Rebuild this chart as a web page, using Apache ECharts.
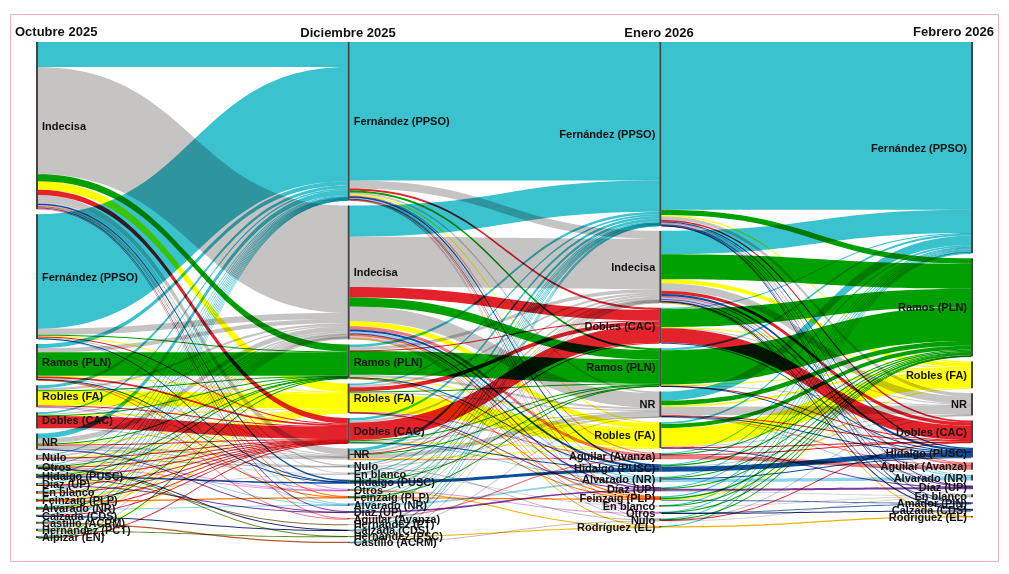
<!DOCTYPE html>
<html><head><meta charset="utf-8">
<script src="https://cdn.jsdelivr.net/npm/echarts@6/dist/echarts.min.js"></script>
<style>
html,body{margin:0;padding:0;background:#fff;}
#chart{width:1009px;height:574px;}
#chart svg path{mix-blend-mode:multiply;}
</style></head><body><div id="chart"></div>
<script>
const columns = ['Octubre 2025','Diciembre 2025','Enero 2026','Febrero 2026'];
const F='Fernández (PPSO)', I='Indecisa', R='Ramos (PLN)', RB='Robles (FA)', D='Dobles (CAC)', N='NR',
  NU='Nulo', OT='Otros', H='Hidalgo (PUSC)', DZ='Díaz (UP)', EB='En blanco', FZ='Feinzaig (PLP)',
  AL='Alvarado (NR)', CZ='Calzada (CDS)', CS='Castillo (ACRM)', HPCT='Hernández (PCT)', AP='Alpízar (EN)',
  AG='Aguilar (Avanza)', HPT='Hernández (PT)', HPSC='Hernández (PSC)', RD='Rodríguez (EL)', AM='Amador (PIN)';

const nodesOct = [I,F,R,RB,D,N,NU,OT,H,DZ,EB,FZ,AL,CZ,CS,HPCT,AP];
const nodesDic = [F,I,R,RB,D,N,NU,EB,H,OT,FZ,AL,DZ,AG,HPT,CZ,HPSC,CS];
const nodesEne = [F,I,D,R,N,RB,AG,H,AL,DZ,FZ,EB,OT,NU,RD];
const nodesFeb = [F,R,RB,N,D,H,AG,AL,DZ,EB,AM,CZ,RD];

// [origen, destino, porcentaje]
const flowsOctDic = [
  [I,F,6.0],[I,I,25.8],[I,R,1.7],[I,RB,2.0],[I,D,1.3],[I,N,1.5],[I,NU,0.3],[I,EB,0.2],[I,H,0.4],[I,OT,0.2],[I,FZ,0.2],[I,AL,0.2],[I,DZ,0.2],[I,AG,0.2],
  [F,F,27.5],[F,I,1.5],[F,R,0.2],[F,RB,0.2],[F,D,0.2],[F,N,0.2],[F,H,0.1],[F,AL,0.1],
  [R,F,1.0],[R,I,1.0],[R,R,5.6],[R,RB,0.2],[R,D,0.4],[R,N,0.2],[R,H,0.1],[R,FZ,0.1],[R,AG,0.1],
  [RB,F,0.7],[RB,I,0.5],[RB,R,0.1],[RB,RB,3.6],[RB,D,0.2],[RB,N,0.1],[RB,OT,0.1],
  [D,F,0.4],[D,I,0.3],[D,R,0.1],[D,RB,0.1],[D,D,2.9],[D,N,0.1],
  [N,F,1.2],[N,I,1.2],[N,R,0.1],[N,RB,0.2],[N,D,0.2],[N,N,0.6],[N,NU,0.1],[N,EB,0.1],[N,AL,0.1],[N,DZ,0.1],
  [NU,F,0.2],[NU,I,0.4],[NU,RB,0.1],[NU,D,0.1],[NU,NU,0.3],[NU,OT,0.1],
  [OT,F,0.2],[OT,I,0.2],[OT,R,0.1],[OT,RB,0.1],[OT,D,0.1],[OT,OT,0.1],[OT,CZ,0.1],[OT,HPSC,0.1],
  [H,F,0.1],[H,I,0.1],[H,R,0.1],[H,RB,0.1],[H,D,0.1],[H,H,0.4],[H,HPT,0.1],
  [DZ,F,0.1],[DZ,I,0.2],[DZ,RB,0.1],[DZ,D,0.1],[DZ,DZ,0.2],
  [EB,F,0.1],[EB,I,0.2],[EB,RB,0.1],[EB,D,0.1],[EB,EB,0.2],
  [FZ,F,0.1],[FZ,I,0.1],[FZ,RB,0.1],[FZ,D,0.1],[FZ,FZ,0.3],
  [AL,F,0.1],[AL,I,0.1],[AL,R,0.1],[AL,RB,0.1],[AL,D,0.1],[AL,AL,0.2],
  [CZ,F,0.1],[CZ,I,0.1],[CZ,D,0.1],[CZ,CZ,0.2],
  [CS,F,0.1],[CS,I,0.1],[CS,CS,0.3],
  [HPCT,F,0.1],[HPCT,I,0.2],[HPCT,RB,0.1],[HPCT,HPSC,0.1],
  [AP,F,0.1],[AP,I,0.2],[AP,R,0.1],[AP,D,0.1]
];
const flowsDicEne = [
  [F,F,33.3],[F,I,1.9],[F,D,0.5],[F,R,0.5],[F,N,0.4],[F,RB,0.3],[F,AG,0.2],[F,H,0.4],[F,AL,0.2],[F,DZ,0.1],[F,FZ,0.1],[F,OT,0.1],[F,NU,0.1],
  [I,F,7.5],[I,I,12.1],[I,D,2.5],[I,R,2.2],[I,N,3.5],[I,RB,1.2],[I,AG,0.8],[I,H,0.5],[I,AL,0.4],[I,DZ,0.4],[I,FZ,0.3],[I,EB,0.2],[I,OT,0.2],[I,NU,0.2],[I,RD,0.2],
  [R,F,0.6],[R,I,0.8],[R,D,0.2],[R,R,5.7],[R,N,0.5],[R,RB,0.1],[R,H,0.1],[R,FZ,0.1],[R,AL,0.1],
  [RB,F,0.4],[RB,I,0.5],[RB,D,1.0],[RB,R,0.2],[RB,N,0.3],[RB,RB,4.4],[RB,AG,0.1],[RB,DZ,0.1],[RB,FZ,0.1],
  [D,F,0.6],[D,I,0.5],[D,D,4.2],[D,R,0.2],[D,N,0.2],[D,RB,0.1],[D,H,0.1],[D,AL,0.2],
  [N,F,0.7],[N,I,0.5],[N,D,0.1],[N,R,0.2],[N,N,1.0],[N,RB,0.1],[N,AG,0.1],
  [NU,F,0.2],[NU,I,0.2],[NU,N,0.1],[NU,NU,0.2],
  [EB,F,0.1],[EB,I,0.1],[EB,N,0.1],[EB,EB,0.2],
  [H,F,0.1],[H,I,0.1],[H,R,0.1],[H,H,0.7],
  [OT,F,0.1],[OT,I,0.1],[OT,OT,0.1],[OT,RD,0.1],
  [FZ,F,0.1],[FZ,I,0.1],[FZ,R,0.1],[FZ,FZ,0.3],
  [AL,F,0.1],[AL,I,0.1],[AL,AL,0.4],
  [DZ,F,0.1],[DZ,DZ,0.4],
  [AG,AG,0.3],
  [HPT,I,0.1],
  [CZ,F,0.1],[CZ,I,0.1],[CZ,N,0.1],
  [HPSC,F,0.1],[HPSC,RD,0.1],
  [CS,F,0.1],[CS,I,0.1],[CS,NU,0.1]
];
const flowsEneFeb = [
  [F,F,40.3],[F,R,1.3],[F,RB,0.3],[F,N,0.8],[F,D,0.4],[F,H,0.3],[F,AG,0.2],[F,AL,0.2],[F,DZ,0.1],[F,EB,0.1],[F,AM,0.1],[F,CZ,0.1],
  [I,F,5.6],[I,R,6.0],[I,RB,1.0],[I,N,1.8],[I,D,0.8],[I,H,0.5],[I,AG,0.4],[I,AL,0.3],[I,DZ,0.2],[I,EB,0.2],[I,AM,0.1],[I,CZ,0.3],[I,RD,0.1],
  [D,F,0.2],[D,R,4.4],[D,RB,0.1],[D,N,0.2],[D,D,3.5],[D,H,0.1],
  [R,F,0.5],[R,R,8.2],[R,RB,0.1],[R,N,0.2],[R,D,0.1],[R,H,0.1],
  [N,F,2.2],[N,R,1.1],[N,RB,0.4],[N,N,2.0],[N,D,0.2],[N,H,0.1],[N,AG,0.1],[N,AL,0.1],
  [RB,F,0.4],[RB,R,1.0],[RB,RB,4.4],[RB,N,0.2],[RB,D,0.1],[RB,DZ,0.1],
  [AG,F,0.2],[AG,R,0.2],[AG,D,0.1],[AG,AG,1.0],
  [H,F,0.2],[H,R,0.3],[H,N,0.1],[H,H,1.2],
  [AL,F,0.2],[AL,R,0.2],[AL,H,0.1],[AL,AL,0.8],
  [DZ,F,0.2],[DZ,R,0.2],[DZ,DZ,0.5],[DZ,EB,0.1],
  [FZ,F,0.3],[FZ,R,0.4],[FZ,RB,0.1],[FZ,AM,0.1],
  [EB,F,0.1],[EB,R,0.1],[EB,EB,0.2],
  [OT,F,0.1],[OT,R,0.1],[OT,CZ,0.1],[OT,AM,0.1],
  [NU,F,0.2],[NU,R,0.1],[NU,N,0.1],[NU,D,0.1],[NU,EB,0.1],
  [RD,F,0.1],[RD,RD,0.3]
];

const partyColor = {
  [F]:'#3bc2cf', [I]:'#c6c3c3', [N]:'#c6c3c3', [R]:'#00a000', [RB]:'#ffff00', [D]:'#e3232b',
  [NU]:'#bdbdbd', [OT]:'#e39ae3', [H]:'#0a4f9e', [DZ]:'#7a3b9c', [EB]:'#d4d4d4', [FZ]:'#ff7300',
  [AL]:'#8fd3ea', [CZ]:'#1d2f6e', [CS]:'#b35a2a', [HPCT]:'#8a6a3a', [AP]:'#c4403f', [AG]:'#f07880',
  [HPT]:'#8a6a3a', [HPSC]:'#5f8a2a', [RD]:'#f0b400', [AM]:'#4a6fa5'
};

const colNodes = [nodesOct, nodesDic, nodesEne, nodesFeb];
const colFlows = [flowsOctDic, flowsDicEne, flowsEneFeb];
const key = (c, n) => c + '|' + n;

const data = [];
colNodes.forEach((list, c) => list.forEach(n => data.push({
  name: key(c, n), label: { position: c < 2 ? 'right' : 'left', distance: 4 }, depth: c, display: n
})));
const links = [];
colFlows.forEach((fl, c) => fl.forEach(([s, t, v]) => links.push({
  source: key(c, s), target: key(c + 1, t), value: v, lineStyle: { color: partyColor[t] }
})));

const chart = echarts.init(document.getElementById('chart'), null, { renderer: 'svg' });
const titleFont = { fontFamily: 'Arial, "Liberation Sans", sans-serif', fontSize: 13, fontWeight: 'bold', fill: '#111' };
chart.setOption({
  backgroundColor: '#fff',
  animation: false,
  graphic: [
    { type: 'rect', shape: { x: 10.5, y: 14.5, width: 988, height: 547 }, style: { fill: 'none', stroke: '#f3b3bc', lineWidth: 1 }, silent: true },
    { type: 'text', x: 15, y: 31, style: Object.assign({ text: columns[0], align: 'left', verticalAlign: 'middle' }, titleFont) },
    { type: 'text', x: 348, y: 32, style: Object.assign({ text: columns[1], align: 'center', verticalAlign: 'middle' }, titleFont) },
    { type: 'text', x: 659, y: 32, style: Object.assign({ text: columns[2], align: 'center', verticalAlign: 'middle' }, titleFont) },
    { type: 'text', x: 994, y: 31, style: Object.assign({ text: columns[3], align: 'right', verticalAlign: 'middle' }, titleFont) }
  ],
  series: [{
    type: 'sankey',
    left: 36, right: 36, top: 42, bottom: 31,
    nodeWidth: 2, nodeGap: 5,
    layoutIterations: 0,
    draggable: false,
    emphasis: { disabled: true },
    itemStyle: { color: '#444', borderWidth: 0 },
    lineStyle: { opacity: 1, curveness: 0.5 },
    label: {
      fontFamily: 'Arial, "Liberation Sans", sans-serif', fontSize: 11, fontWeight: 'bold', color: '#111',
      formatter: p => p.data.display
    },
    data: data,
    links: links
  }]
});
</script></body></html>
